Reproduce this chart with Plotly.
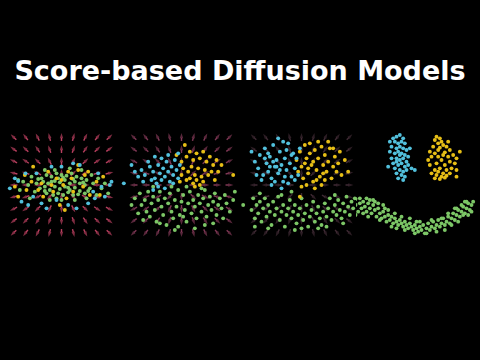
import plotly.graph_objects as go

TITLE = "Score-based Diffusion Models"

# colours
BLUE = "#52c0dc"
YELLOW = "#e6be16"
GREEN = "#7cc666"

# ---- panel 1 (noisy) ----
p1_green = [(-60, 20), (-45, 30), (-30, 25), (-15, 35), (0, 30), (15, 28), (30, 35), (45, 25), (60, 20), (75, 15),
            (-75, 5), (-55, 10), (-40, 5), (-20, 12), (-5, 8), (10, 15), (25, 5), (40, 10), (55, 5), (70, 0),
            (-65, -10), (-50, -5), (-35, -15), (-20, -5), (-5, -12), (10, -5), (25, -15), (40, -8), (55, -18), (85, -10),
            (-45, -25), (-25, -30), (-10, -25), (5, -30), (20, -22), (35, -30), (50, -28), (70, -25), (-80, -20), (95, 5),
            (-100, 0), (-115, 10), (-125, -15), (-90, 25), (90, 30), (110, 20), (120, -10), (130, 5), (-20, 45), (25, 50),
            (60, 45), (-50, 45), (0, -45), (-35, -45), (40, -45), (75, -40), (105, -30), (-95, -40), (-130, 15), (140, -25),
            (-10, 20), (20, -8), (-30, 10), (5, 22), (35, 18), (-50, -18), (65, 8), (-70, 18), (80, -18), (-15, -40)]
p1_yellow = [(-85, 55), (-40, 40), (-15, 20), (20, 40), (50, 45), (80, 40), (105, 10), (-70, -15), (-30, 0), (5, 0),
             (30, 20), (65, -5), (-105, -15), (-130, -35), (-55, -35), (-5, -60), (15, -40), (85, -30), (115, -30), (-140, -5),
             (-60, 5), (35, -20), (0, 15), (50, 60), (-25, -20), (70, 30), (-90, 10), (125, 25), (10, -75), (-110, 30)]
p1_blue = [(-108, 35), (-130, 12), (-120, -50), (-45, -70), (45, -70), (120, -5), (145, 0), (100, -40), (35, 65), (55, 60),
           (-75, 35), (-155, -10), (-100, -60), (-60, -55), (80, -55), (130, -35), (-30, 55), (0, 55), (-140, 20), (110, 35),
           (95, -20), (-15, -45), (150, 10), (-85, -35), (20, -60)]

# ---- panel 2 ----
p2_blue = [(-140, 40), (-120, 45), (-110, 30), (-95, 55), (-85, 40), (-80, 20), (-70, 60), (-65, 35), (-60, 15), (-55, 50),
           (-50, 25), (-45, 70), (-40, 40), (-35, 10), (-30, 55), (-25, 30), (-20, 75), (-15, 45), (-75, 5), (-90, 15),
           (-100, 70), (-80, 85), (-60, 80), (-40, 90), (-25, 5), (-10, 20), (-115, 10), (-130, 25), (-5, 60), (-70, -5),
           (-173, 5), (-50, -10), (-85, -15), (-10, 95), (-150, 60)]
p2_yellow = [(10, 120), (-15, 90), (0, 70), (15, 85), (25, 100), (35, 75), (45, 95), (55, 80), (65, 100), (75, 70),
             (85, 85), (95, 60), (105, 75), (5, 50), (20, 40), (30, 55), (40, 30), (50, 50), (60, 25), (70, 45),
             (80, 30), (90, 40), (110, 40), (0, 30), (15, 15), (25, 20), (35, 5), (45, 15), (55, 0), (65, 10),
             (155, 30), (120, 60), (-5, 10), (100, 15), (40, -5)]
p2_green = [(-140, -40), (-125, -25), (-120, -60), (-110, -45), (-105, -80), (-100, -20), (-95, -95), (-90, -55), (-85, -35), (-80, -75),
            (-75, -110), (-70, -45), (-65, -20), (-60, -65), (-55, -90), (-50, -40), (-45, -120), (-40, -55), (-35, -25), (-30, -80),
            (-25, -100), (-20, -45), (-15, -65), (-10, -15), (-5, -90), (0, -50), (5, -30), (10, -75), (15, -110), (20, -55),
            (25, -20), (30, -85), (35, -45), (40, -65), (45, -100), (50, -30), (55, -55), (60, -80), (65, -40), (70, -15),
            (75, -95), (80, -60), (85, -35), (90, -75), (95, -50), (100, -25), (105, -90), (110, -60), (115, -40), (120, -70),
            (130, -30), (135, -55), (145, -80), (155, -45), (-130, -85), (-115, -105), (-65, -115), (-10, -125), (40, -130), (95, -115),
            (-150, -60), (-30, -5), (15, -5), (60, -10), (125, -100), (-85, -5), (160, -20), (-20, -135), (5, -95), (70, -120)]

# ---- panel 3 ----
p3_blue = [(-150, 100), (-140, 70), (-130, 50), (-125, 90), (-115, 30), (-110, 110), (-105, 65), (-100, 40), (-95, 85), (-90, 20),
           (-85, 120), (-80, 55), (-75, 75), (-70, 35), (-65, 100), (-60, 60), (-55, 10), (-50, 80), (-45, 45), (-40, 125),
           (-35, 65), (-30, 25), (-25, 95), (-20, 50), (-15, 80), (-10, 30), (-5, 110), (-70, 140), (-55, 130), (-90, 0),
           (-60, -10), (-40, 5), (-120, 15), (-135, 30), (-100, 95), (-80, 10), (-65, 45), (-50, 25), (-85, 70), (-45, 105),
           (-75, 55), (-95, 55), (-110, 80), (-30, 90), (-20, 15)]
p3_yellow = [(-15, 75), (-10, 40), (-5, 100), (0, 55), (5, 20), (10, 120), (15, 80), (20, 35), (25, 95), (30, 60),
             (35, 10), (40, 105), (45, 45), (50, 80), (55, 25), (60, 115), (65, 60), (70, 90), (75, 40), (80, 70),
             (85, 110), (90, 20), (95, 55), (100, 85), (105, 40), (110, 65), (115, 100), (120, 30), (130, 75), (140, 40),
             (0, -5), (15, 0), (40, -10), (60, 0), (-5, -35), (25, 125), (50, 130), (80, 130), (45, 15), (10, 65),
             (70, 15), (95, 110), (35, 70), (65, 35), (20, 50)]
p3_green = [(-175, -60), (-150, -75), (-145, -40), (-140, -100), (-135, -60), (-130, -85), (-125, -50), (-120, -110), (-115, -70), (-110, -40),
            (-105, -95), (-100, -60), (-95, -80), (-90, -120), (-85, -50), (-80, -90), (-75, -70), (-70, -35), (-65, -105), (-60, -80),
            (-55, -60), (-50, -125), (-45, -90), (-40, -70), (-35, -45), (-30, -100), (-25, -80), (-20, -60), (-15, -115), (-10, -90),
            (-5, -70), (0, -40), (5, -105), (10, -85), (15, -60), (20, -125), (25, -95), (30, -75), (35, -50), (40, -110),
            (45, -85), (50, -65), (55, -100), (60, -120), (65, -80), (70, -55), (75, -95), (80, -70), (85, -40), (90, -105),
            (95, -80), (100, -60), (105, -90), (110, -45), (115, -75), (120, -100), (125, -55), (130, -80), (135, -35), (140, -65),
            (145, -90), (150, -50), (160, -40), (-125, -25), (-60, -30), (-20, -135), (50, -130), (100, -30), (125, -115), (-140, -125),
            (-100, -130), (0, -130), (75, -125), (-30, -20), (155, -70)]

# ---- panel 4 (data) ----
p4_blue = [(-70, 140), (-60, 145), (-50, 150), (-40, 140), (-65, 130), (-55, 125), (-45, 130), (-35, 125), (-75, 115), (-60, 110),
           (-50, 115), (-40, 110), (-30, 105), (-80, 100), (-65, 95), (-55, 100), (-45, 95), (-35, 90), (-25, 85), (-75, 80),
           (-60, 80), (-50, 75), (-40, 80), (-30, 70), (-70, 65), (-55, 60), (-45, 65), (-35, 55), (-25, 60), (-65, 50),
           (-50, 45), (-40, 40), (-30, 45), (-60, 35), (-45, 30), (-35, 25), (-55, 20), (-40, 15), (-85, 55), (-15, 50),
           (-5, 45), (-20, 110), (-80, 130), (-50, 90), (-60, 70)]
p4_yellow = [(60, 145), (70, 140), (55, 135), (75, 130), (65, 125), (80, 120), (50, 115), (70, 112), (90, 115), (100, 105),
             (40, 100), (55, 95), (85, 98), (110, 90), (45, 85), (65, 85), (95, 85), (120, 80), (35, 75), (75, 75),
             (100, 70), (115, 65), (60, 65), (85, 60), (105, 50), (70, 50), (55, 45), (90, 45), (65, 40), (80, 35),
             (60, 30), (75, 25), (90, 28), (55, 20), (70, 18), (85, 22), (45, 35), (100, 35), (120, 25), (130, 100),
             (95, 130), (40, 60), (80, 90), (65, 105), (120, 45)]
p4_green = [(-183, -42), (-183, -60), (-183, -90), (-170, -55), (-165, -70), (-160, -50), (-155, -65), (-150, -80), (-145, -55), (-140, -70),
            (-135, -85), (-130, -60), (-125, -75), (-120, -95), (-115, -70), (-110, -85), (-105, -100), (-100, -80), (-95, -95), (-90, -110),
            (-85, -90), (-80, -105), (-75, -95), (-70, -115), (-65, -100), (-60, -110), (-55, -120), (-50, -105), (-45, -115), (-40, -125),
            (-35, -110), (-30, -120), (-25, -130), (-20, -115), (-15, -125), (-10, -135), (-5, -120), (0, -130), (5, -140), (10, -125),
            (15, -135), (20, -120), (25, -145), (30, -130), (35, -115), (40, -135), (45, -125), (50, -110), (55, -130), (60, -120),
            (65, -105), (70, -125), (75, -115), (80, -100), (85, -120), (90, -110), (95, -95), (100, -115), (105, -100), (110, -85),
            (115, -105), (120, -90), (125, -75), (130, -95), (135, -80), (140, -65), (145, -85), (150, -70), (155, -55), (160, -75),
            (165, -60), (150, -50), (140, -90), (-150, -40), (-125, -50), (-100, -60), (-140, -45), (-60, -130), (0, -110), (115, -70),
            (-175, -80), (-160, -85), (-145, -95), (-130, -45), (-115, -55), (-110, -105), (-95, -70), (-85, -75), (-75, -125), (-65, -85),
            (-45, -95), (-35, -135), (-20, -100), (-5, -145), (10, -110), (30, -145), (45, -105), (60, -140), (75, -100), (85, -135),
            (95, -85), (105, -120), (120, -70), (125, -110), (135, -60), (145, -50), (155, -90), (165, -80), (170, -50), (-170, -40)]

panels = [
    (p1_green, p1_yellow, p1_blue),
    (p2_green, p2_yellow, p2_blue),
    (p3_green, p3_yellow, p3_blue),
    (p4_green, p4_yellow, p4_blue),
]

# score-field grid and arrow colours per panel
grid = [-144, -108, -72, -36, 0, 36, 72, 108, 144]
arrow_colors = ["rgba(205,70,105,0.9)", "rgba(195,85,130,0.65)", "rgba(180,120,150,0.35)", None]
ARROW_LEN = 24

# panel centres in px (x) for layout
centers_px = [61.5, 181.5, 301.5, 416.5]
HALF = 60.5
W, H = 480, 360
ydom = [(H - 245.5) / H, (H - 124.5) / H]
RNG = [-181.5, 181.5]

fig = go.Figure()
layout_axes = {}
for i, (pts_g, pts_y, pts_b) in enumerate(panels):
    n = "" if i == 0 else str(i + 1)
    xa, ya = "x" + n, "y" + n
    col = arrow_colors[i]
    if col:
        ax_x, ax_y = [], []
        for gx in grid:
            for gy in grid:
                r = (gx * gx + gy * gy) ** 0.5
                if r == 0:
                    continue
                dx, dy = gx / r * ARROW_LEN / 2, gy / r * ARROW_LEN / 2
                ax_x += [gx - dx, gx + dx, None]
                ax_y += [gy - dy, gy + dy, None]
        sizes = [0, 5.5, 0] * (len(ax_x) // 3)
        fig.add_trace(go.Scatter(
            x=ax_x, y=ax_y, mode="lines+markers", xaxis=xa, yaxis=ya,
            line=dict(color=col, width=1.4),
            marker=dict(symbol="arrow", angleref="previous", size=sizes, color=col, line=dict(width=0)),
            hoverinfo="skip", showlegend=False))
    for pts, c in ((pts_g, GREEN), (pts_y, YELLOW), (pts_b, BLUE)):
        fig.add_trace(go.Scatter(
            x=[p[0] for p in pts], y=[p[1] for p in pts], mode="markers",
            xaxis=xa, yaxis=ya,
            marker=dict(size=3.9, color=c, line=dict(width=0)),
            hoverinfo="skip", showlegend=False))
    c = centers_px[i]
    layout_axes["xaxis" + n] = dict(domain=[(c - HALF) / W, (c + HALF) / W], range=RNG,
                                    visible=False, fixedrange=True, anchor=ya)
    layout_axes["yaxis" + n] = dict(domain=ydom, range=RNG, visible=False, fixedrange=True, anchor=xa)

fig.update_layout(
    width=W, height=H,
    margin=dict(l=0, r=0, t=0, b=0),
    paper_bgcolor="black", plot_bgcolor="black",
    title=dict(text=TITLE, x=0.5, xanchor="center", y=1 - 71 / H, yanchor="middle",
               yref="container",
               font=dict(family="DejaVu Sans", size=27, color="white", weight="bold")),
    showlegend=False,
    **layout_axes,
)

fig.write_html("out.html")
